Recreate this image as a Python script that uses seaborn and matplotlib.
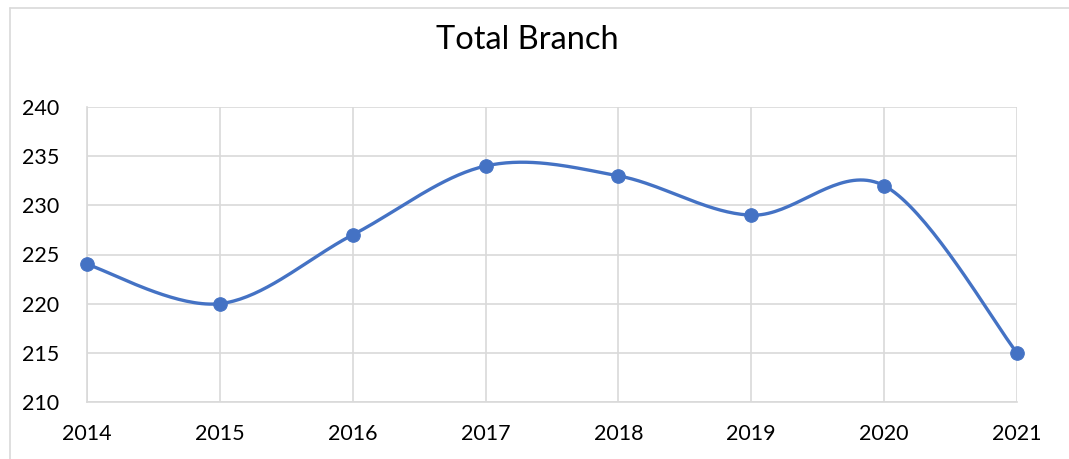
import matplotlib
matplotlib.use("Agg")
import matplotlib.pyplot as plt
import matplotlib.lines as mlines
import numpy as np
import pandas as pd
import seaborn as sns

years = [2014, 2015, 2016, 2017, 2018, 2019, 2020, 2021]
branches = [224, 220, 227, 234, 233, 229, 232, 215]
y_ticks = [210, 215, 220, 225, 230, 235, 240]


def smooth_curve(xs, ys, steps=40):
    # Excel-style smoothed line: cubic Bezier segments with Catmull-Rom control points
    xs = np.asarray(xs, float)
    ys = np.asarray(ys, float)
    px = np.concatenate([[xs[0]], xs, [xs[-1]]])
    py = np.concatenate([[ys[0]], ys, [ys[-1]]])
    out_x, out_y = [], []
    t = np.linspace(0, 1, steps)
    for i in range(1, len(px) - 2):
        p0 = np.array([px[i], py[i]])
        p3 = np.array([px[i + 1], py[i + 1]])
        c1 = p0 + (np.array([px[i + 1], py[i + 1]]) - np.array([px[i - 1], py[i - 1]])) / 6
        c2 = p3 - (np.array([px[i + 2], py[i + 2]]) - np.array([px[i], py[i]])) / 6
        pts = ((1 - t) ** 3)[:, None] * p0 + (3 * (1 - t) ** 2 * t)[:, None] * c1 \
            + (3 * (1 - t) * t ** 2)[:, None] * c2 + (t ** 3)[:, None] * p3
        out_x.extend(pts[:, 0])
        out_y.extend(pts[:, 1])
    return out_x, out_y


sns.set_style("white")
plt.rcParams['font.family'] = ['Lato', 'DejaVu Sans']

df = pd.DataFrame({'year': years, 'branches': branches})
cx, cy = smooth_curve(df['year'], df['branches'])
curve = pd.DataFrame({'year': cx, 'branches': cy})

fig = plt.figure(figsize=(10.69, 4.59), dpi=100)
ax = fig.add_axes([87 / 1069, 1 - 402 / 459, 930 / 1069, 295 / 459])

blue = '#4472C4'
sns.lineplot(x='year', y='branches', data=curve, ax=ax, color=blue, linewidth=2.4,
             sort=False, estimator=None, clip_on=False)
sns.scatterplot(x='year', y='branches', data=df, ax=ax, color=blue, s=95,
                edgecolor=blue, zorder=3, clip_on=False)

ax.set_xlim(years[0], years[-1])
ax.set_ylim(y_ticks[0], y_ticks[-1])
ax.set_xticks(years)
ax.set_xticklabels([str(y) for y in years])
ax.set_yticks(y_ticks)
ax.grid(True, color='#d9d9d9', linewidth=1.2)
ax.set_axisbelow(True)
for side in ['top', 'right']:
    ax.spines[side].set_visible(False)
for side in ['left', 'bottom']:
    ax.spines[side].set_color('#d9d9d9')
    ax.spines[side].set_linewidth(1.2)
ax.tick_params(axis='both', length=0, labelsize=15.5, colors='black')
ax.tick_params(axis='x', pad=16)
ax.tick_params(axis='y', pad=20)
ax.set_xlabel('')
ax.set_ylabel('')

fig.text(527 / 1069, 1 - 40 / 459, 'Total Branch', ha='center', va='center',
         fontsize=23.5, color='black')

# chart frame (top and left edges visible)
fig.add_artist(mlines.Line2D([10 / 1069, 1], [1 - 8 / 459, 1 - 8 / 459],
                             transform=fig.transFigure, color='#d9d9d9', linewidth=1.2))
fig.add_artist(mlines.Line2D([10 / 1069, 10 / 1069], [0, 1 - 8 / 459],
                             transform=fig.transFigure, color='#d9d9d9', linewidth=1.2))

fig.savefig('out.png', dpi=100)
